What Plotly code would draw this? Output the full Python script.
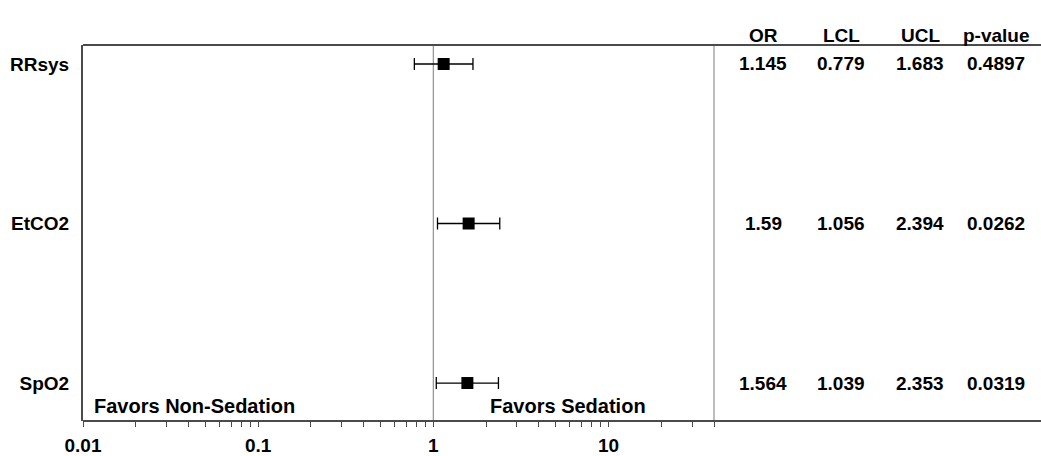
import plotly.graph_objects as go
import math

# ---- data ----
labels = ["RRsys", "EtCO2", "SpO2"]
odds_ratio = [1.145, 1.59, 1.564]
lcl = [0.779, 1.056, 1.039]
ucl = [1.683, 2.394, 2.353]
p_values = ["0.4897", "0.0262", "0.0319"]
or_text = ["1.145", "1.59", "1.564"]
lcl_text = ["0.779", "1.056", "1.039"]
ucl_text = ["1.683", "2.394", "2.353"]
table_headers = ["OR", "LCL", "UCL", "p-value"]
x_tickvals = [0.01, 0.1, 1, 10]
x_ticktext = ["0.01", "0.1", "1", "10"]
minor_vals = [m * 10 ** e for e in (-2, -1, 0) for m in range(2, 10)] + [20, 30, 40]

rows = [3, 2, 1]  # vertical positions of the rows (top to bottom)

W, H = 1041, 456
ML, MR, MT, MB = 83, 0, 45, 35
plot_w = W - ML - MR
plot_h = H - MT - MB
x_dom_end = (714 - ML) / plot_w

FONT = "Liberation Sans, Arial, sans-serif"
frame_col = "#4a4a4a"
ref_col = "#9a9a9a"
BOLD = dict(family=FONT, size=19, color="black", weight="bold")

fig = go.Figure()
fig.add_trace(go.Scatter(
    x=odds_ratio, y=rows, mode="markers",
    marker=dict(symbol="square", size=12, color="black"),
    error_x=dict(type="data", symmetric=False,
                 array=[u - o for u, o in zip(ucl, odds_ratio)],
                 arrayminus=[o - l for o, l in zip(odds_ratio, lcl)],
                 color="black", thickness=1.3, width=6),
    showlegend=False, hoverinfo="skip",
))

fig.update_layout(
    width=W, height=H,
    margin=dict(l=ML, r=MR, t=MT, b=MB, autoexpand=False),
    paper_bgcolor="white", plot_bgcolor="white",
    font=BOLD,
    xaxis=dict(type="log", range=[-2, math.log10(40)], domain=[0, x_dom_end],
               tickvals=x_tickvals, ticktext=x_ticktext,
               ticks="outside", ticklen=5, tickcolor=frame_col, tickwidth=1,
               minor=dict(tickvals=minor_vals, ticks="outside", ticklen=5,
                          tickcolor=frame_col, tickwidth=1, showgrid=False),
               showgrid=False, zeroline=False, showline=False,
               ticklabelstandoff=2, automargin=False,
               tickfont=BOLD),
    yaxis=dict(range=[0.762, 3.119], tickvals=rows, ticktext=labels,
               showgrid=False, zeroline=False, showline=True,
               linecolor=frame_col, linewidth=2, ticks="", ticklabelstandoff=8,
               automargin=False, tickfont=BOLD),
)

# reference line at OR = 1
fig.add_shape(type="line", xref="x", yref="paper", x0=1, x1=1, y0=0, y1=1,
              line=dict(color=ref_col, width=1.3), layer="below")
# divider between plot and table
fig.add_shape(type="line", xref="paper", yref="paper", x0=x_dom_end, x1=x_dom_end,
              y0=0, y1=1, line=dict(color=ref_col, width=1.3))
# top and bottom frame lines across full width
fig.add_shape(type="line", xref="paper", yref="paper", x0=0, x1=1, y0=1, y1=1,
              line=dict(color=frame_col, width=2))
fig.add_shape(type="line", xref="paper", yref="paper", x0=0, x1=1, y0=0, y1=0,
              line=dict(color=frame_col, width=2))

# table
col_px = [763, 841, 920, 996]
col_x = [(c - ML) / plot_w for c in col_px]
header_y = (H - MB - 36) / plot_h
for cx, h in zip(col_x, table_headers):
    fig.add_annotation(x=cx, y=header_y, xref="paper", yref="paper", text=h,
                       showarrow=False, xanchor="center", yanchor="middle",
                       font=BOLD)
for cols in zip(or_text, lcl_text, ucl_text, p_values, rows):
    for cx, t in zip(col_x, cols[:4]):
        fig.add_annotation(x=cx, y=cols[4], xref="paper", yref="y", text=t,
                           showarrow=False, xanchor="center", yanchor="middle",
                           font=BOLD)

# favors labels
fav_y = 15 / plot_h
FAV = dict(family=FONT, size=20, color="black", weight="bold")
fig.add_annotation(x=(92 - ML) / plot_w, y=fav_y, xref="paper", yref="paper",
                   text="Favors Non-Sedation", showarrow=False, xanchor="left",
                   yanchor="middle", font=FAV)
fig.add_annotation(x=(488 - ML) / plot_w, y=fav_y, xref="paper", yref="paper",
                   text="Favors Sedation", showarrow=False, xanchor="left",
                   yanchor="middle", font=FAV)

fig.write_html("out.html", config={"displayModeBar": False},
               post_script="document.body.style.margin='0';document.body.style.padding='0';")
